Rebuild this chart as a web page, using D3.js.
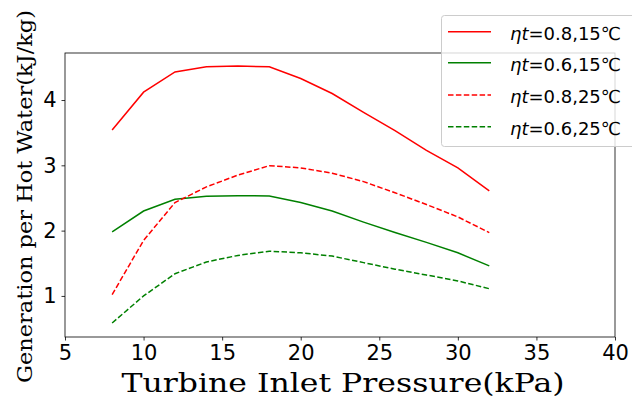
<!DOCTYPE html>
<html>
<head>
<meta charset="utf-8">
<script src="https://cdn.jsdelivr.net/npm/d3@7/dist/d3.min.js"></script>
<style>
  html, body { margin: 0; padding: 0; background: #fff; }
  svg { display: block; }
</style>
</head>
<body>
<svg id="chart" width="632" height="403"></svg>
<script>
// Turbine inlet pressure (kPa)
const pressure = [8, 10, 12, 14, 16, 18, 20, 22, 24, 26, 28, 30, 32];

// Power generation per unit of hot water (kJ/kg)
const eta08_15 = [3.54, 4.12, 4.43, 4.51, 4.52, 4.51, 4.33, 4.10, 3.81, 3.53, 3.23, 2.96, 2.61];
const eta06_15 = [1.98, 2.30, 2.48, 2.525, 2.535, 2.53, 2.43, 2.30, 2.13, 1.97, 1.82, 1.66, 1.46];
const eta08_25 = [1.02, 1.85, 2.43, 2.67, 2.85, 2.995, 2.96, 2.88, 2.75, 2.58, 2.40, 2.21, 1.97];
const eta06_25 = [0.585, 1.00, 1.34, 1.52, 1.62, 1.685, 1.66, 1.61, 1.51, 1.41, 1.32, 1.23, 1.11];

const xTicks = [5, 10, 15, 20, 25, 30, 35, 40];
const yTicks = [1, 2, 3, 4];

const seriesNames = ["0.8,15℃", "0.6,15℃", "0.8,25℃", "0.6,25℃"];
const seriesValues = [eta08_15, eta06_15, eta08_25, eta06_25];
const seriesColors = ["#ff0000", "#008000", "#ff0000", "#008000"];
const seriesDashed = [false, false, true, true];

const svg = d3.select("#chart");
const plotLeft = 65, plotRight = 615, plotTop = 53, plotBottom = 337;

const x = d3.scaleLinear().domain([5, 40]).range([plotLeft, plotRight]);
const y = d3.scaleLinear().domain([0.371, 4.72]).range([plotBottom, plotTop]);

// axes with short outward ticks
const xAxis = svg.append("g")
  .attr("transform", `translate(0,${plotBottom})`)
  .call(d3.axisBottom(x).tickValues(xTicks).tickSize(3.5).tickPadding(5).tickFormat(d3.format("d")));
const yAxis = svg.append("g")
  .attr("transform", `translate(${plotLeft},0)`)
  .call(d3.axisLeft(y).tickValues(yTicks).tickSize(3.5).tickPadding(5).tickFormat(d3.format("d")));

[xAxis, yAxis].forEach(g => {
  g.select(".domain").remove();
  g.selectAll(".tick line").attr("stroke", "#000").attr("stroke-width", 0.8);
  g.selectAll(".tick text")
    .attr("fill", "#000")
    .style("font-family", "'DejaVu Sans', sans-serif")
    .style("font-size", "21px");
});

// frame
svg.append("rect")
  .attr("x", plotLeft).attr("y", plotTop)
  .attr("width", plotRight - plotLeft).attr("height", plotBottom - plotTop)
  .attr("fill", "none").attr("stroke", "#000").attr("stroke-width", 0.8);

// curves
const line = d3.line().x((d, i) => x(pressure[i])).y(d => y(d));
seriesValues.forEach((vals, k) => {
  svg.append("path")
    .datum(vals)
    .attr("d", line)
    .attr("fill", "none")
    .attr("stroke", seriesColors[k])
    .attr("stroke-width", 1.5)
    .attr("stroke-dasharray", seriesDashed[k] ? "5.5,2.4" : null);
});

// axis titles
svg.append("text")
  .attr("x", 121.5).attr("y", 392)
  .attr("textLength", 443).attr("lengthAdjust", "spacingAndGlyphs")
  .style("font-family", "'DejaVu Serif', serif")
  .style("font-size", "26px")
  .text("Turbine Inlet Pressure(kPa)");

svg.append("text")
  .attr("transform", "translate(32,383) rotate(-90)")
  .attr("textLength", 373).attr("lengthAdjust", "spacingAndGlyphs")
  .style("font-family", "'DejaVu Serif', serif")
  .style("font-size", "21px")
  .text("Generation per Hot Water(kJ/kg)");

// legend
const legend = svg.append("g");
legend.append("rect")
  .attr("x", 441.5).attr("y", 15.5)
  .attr("width", 200).attr("height", 131)
  .attr("rx", 3)
  .attr("fill", "#fff").attr("fill-opacity", 0.8)
  .attr("stroke", "#ccc").attr("stroke-width", 1);

const rowY = [31.7, 62.7, 95, 126.7];
seriesNames.forEach((name, k) => {
  legend.append("line")
    .attr("x1", 448).attr("x2", 491)
    .attr("y1", rowY[k]).attr("y2", rowY[k])
    .attr("stroke", seriesColors[k])
    .attr("stroke-width", 1.5)
    .attr("stroke-dasharray", seriesDashed[k] ? "5.5,2.4" : null);
  const t = legend.append("text")
    .attr("x", 510).attr("y", rowY[k] + 8)
    .style("font-family", "'DejaVu Sans', sans-serif")
    .style("font-size", "18px")
    .attr("fill", "#000");
  t.append("tspan").style("font-style", "italic").text("ηt");
  t.append("tspan").text("=" + name);
});
</script>
</body>
</html>
